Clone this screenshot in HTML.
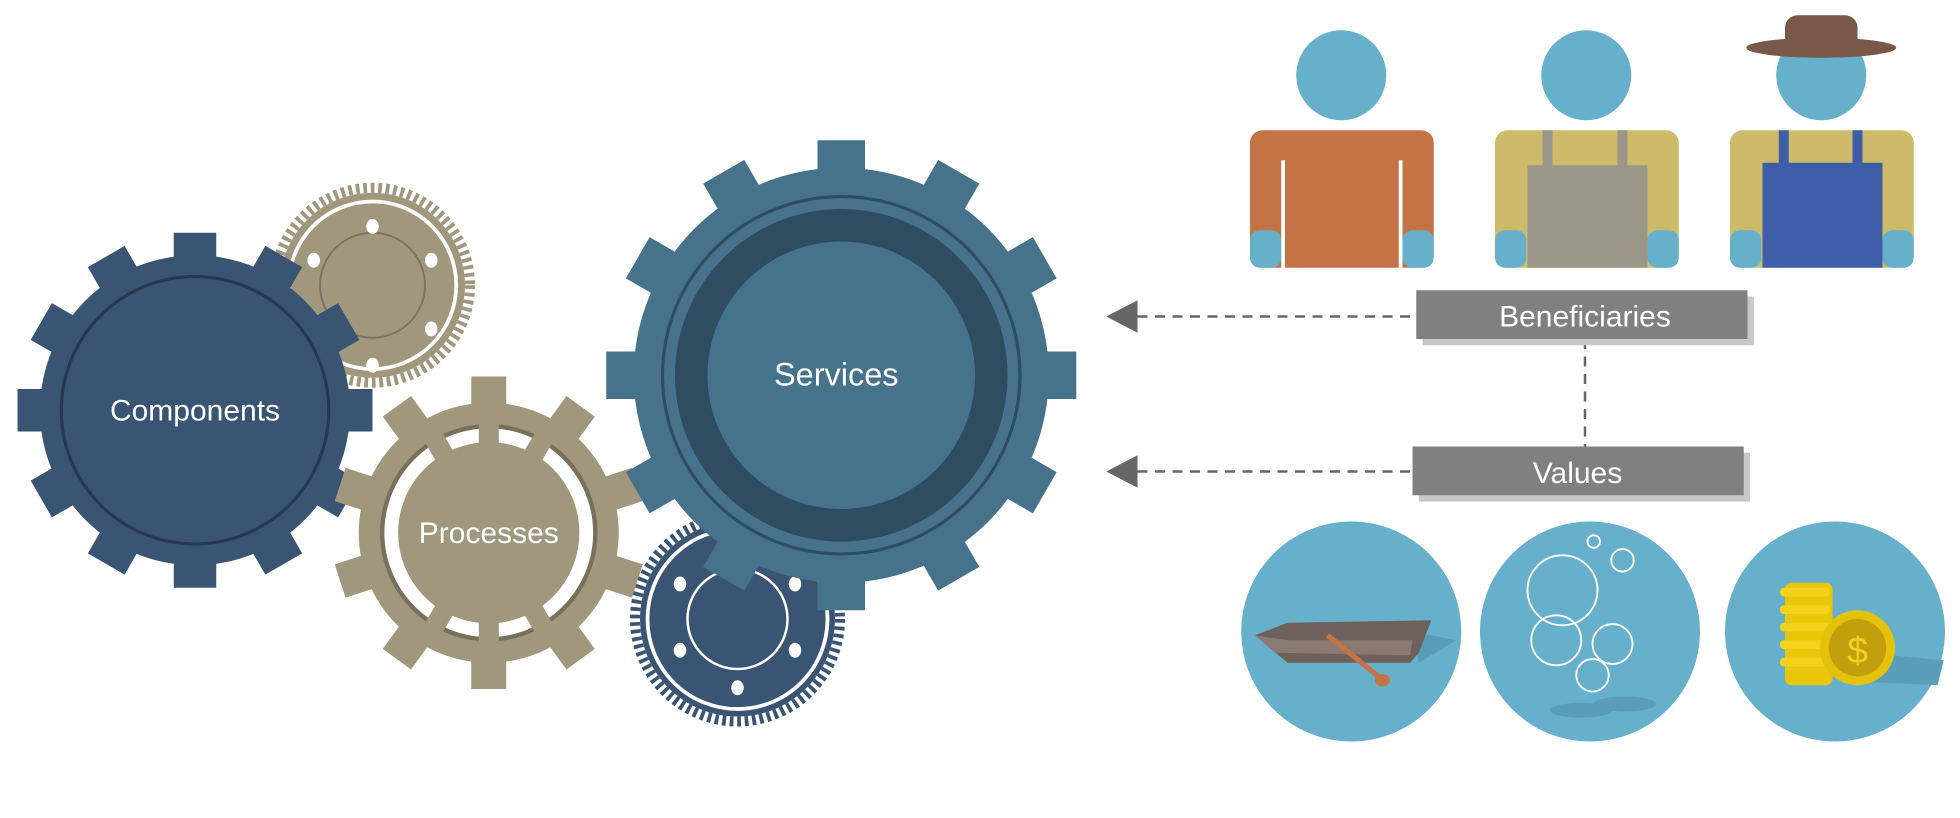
<!DOCTYPE html>
<html><head><meta charset="utf-8"><style>
html,body{margin:0;padding:0;background:#fff;width:1960px;height:818px;overflow:hidden}
svg{display:block}
text{font-family:"Liberation Sans","DejaVu Sans",sans-serif;fill:#fff}
</style></head><body>
<svg width="1960" height="818" viewBox="0 0 1568 654" xmlns="http://www.w3.org/2000/svg">

<!-- small tan fine gear top -->
<g transform="translate(298,228)">
<circle r="78" fill="none" stroke="#a0977c" stroke-width="8" stroke-dasharray="3 3"/>
<circle r="74" fill="#a0977c"/>
<circle r="67" fill="none" stroke="#fff" stroke-width="3"/>
<circle r="42" fill="none" stroke="#7a7260" stroke-width="1.5"/>
<ellipse cx="0" cy="-47" rx="5" ry="6" fill="#fff"/>
<ellipse cx="0" cy="64" rx="5" ry="6" fill="#fff"/>
<ellipse cx="-47" cy="-20" rx="5" ry="6" fill="#fff"/>
<ellipse cx="47" cy="-20" rx="5" ry="6" fill="#fff"/>
<ellipse cx="47" cy="35" rx="5" ry="6" fill="#fff"/>
</g>

<!-- bottom dark fine gear -->
<g transform="translate(590,495)">
<circle r="82" fill="none" stroke="#3a5573" stroke-width="8" stroke-dasharray="3 3"/>
<circle r="78" fill="#3a5573"/>
<circle r="72" fill="none" stroke="#fff" stroke-width="3"/>
<circle r="40" fill="none" stroke="#fff" stroke-width="2"/>
<ellipse cx="-46" cy="-28" rx="5" ry="6" fill="#fff"/>
<ellipse cx="46" cy="-28" rx="5" ry="6" fill="#fff"/>
<ellipse cx="-46" cy="25" rx="5" ry="6" fill="#fff"/>
<ellipse cx="46" cy="25" rx="5" ry="6" fill="#fff"/>
<ellipse cx="0" cy="55" rx="5" ry="6" fill="#fff"/>
</g>

<!-- Components gear -->
<g transform="translate(156,328)" fill="#3a5573">
<circle r="124"/>
<g><rect x="-17" y="-142" width="34" height="40" transform="rotate(0)"/><rect x="-17" y="-142" width="34" height="40" transform="rotate(30)"/><rect x="-17" y="-142" width="34" height="40" transform="rotate(60)"/><rect x="-17" y="-142" width="34" height="40" transform="rotate(90)"/><rect x="-17" y="-142" width="34" height="40" transform="rotate(120)"/><rect x="-17" y="-142" width="34" height="40" transform="rotate(150)"/><rect x="-17" y="-142" width="34" height="40" transform="rotate(180)"/><rect x="-17" y="-142" width="34" height="40" transform="rotate(210)"/><rect x="-17" y="-142" width="34" height="40" transform="rotate(240)"/><rect x="-17" y="-142" width="34" height="40" transform="rotate(270)"/><rect x="-17" y="-142" width="34" height="40" transform="rotate(300)"/><rect x="-17" y="-142" width="34" height="40" transform="rotate(330)"/></g>
<circle r="107" fill="none" stroke="#27384f" stroke-width="2.5"/>
<text x="0" y="8" font-size="24" text-anchor="middle">Components</text>
</g>

<!-- Processes gear -->
<g transform="translate(391,426)" fill="#a0977c">
<circle r="104"/>
<g><rect x="-14" y="-125" width="28" height="35" transform="rotate(0)"/><rect x="-14" y="-125" width="28" height="35" transform="rotate(36)"/><rect x="-14" y="-125" width="28" height="35" transform="rotate(72)"/><rect x="-14" y="-125" width="28" height="35" transform="rotate(108)"/><rect x="-14" y="-125" width="28" height="35" transform="rotate(144)"/><rect x="-14" y="-125" width="28" height="35" transform="rotate(180)"/><rect x="-14" y="-125" width="28" height="35" transform="rotate(216)"/><rect x="-14" y="-125" width="28" height="35" transform="rotate(252)"/><rect x="-14" y="-125" width="28" height="35" transform="rotate(288)"/><rect x="-14" y="-125" width="28" height="35" transform="rotate(324)"/></g>
<circle r="85" fill="none" stroke="#78705a" stroke-width="4"/>
<circle r="78" fill="none" stroke="#fff" stroke-width="11"/>
<rect x="-8" y="-92" width="16" height="184"/>
<rect x="-92" y="-8" width="184" height="16" transform="rotate(60)"/>
<rect x="-92" y="-8" width="184" height="16" transform="rotate(-60)"/>
<circle r="72"/>
<text x="0" y="8" font-size="24" text-anchor="middle">Processes</text>
</g>

<!-- Services gear -->
<g transform="translate(673,300)" fill="#46728c">
<circle r="166"/>
<g><rect x="-19" y="-188" width="38" height="40" transform="rotate(0)"/><rect x="-19" y="-188" width="38" height="40" transform="rotate(30)"/><rect x="-19" y="-188" width="38" height="40" transform="rotate(60)"/><rect x="-19" y="-188" width="38" height="40" transform="rotate(90)"/><rect x="-19" y="-188" width="38" height="40" transform="rotate(120)"/><rect x="-19" y="-188" width="38" height="40" transform="rotate(150)"/><rect x="-19" y="-188" width="38" height="40" transform="rotate(180)"/><rect x="-19" y="-188" width="38" height="40" transform="rotate(210)"/><rect x="-19" y="-188" width="38" height="40" transform="rotate(240)"/><rect x="-19" y="-188" width="38" height="40" transform="rotate(270)"/><rect x="-19" y="-188" width="38" height="40" transform="rotate(300)"/><rect x="-19" y="-188" width="38" height="40" transform="rotate(330)"/></g>
<circle r="143" fill="none" stroke="#2e4d60" stroke-width="2.5"/>
<circle r="133" fill="#2e4d60"/>
<circle r="107" fill="#46728c"/>
<text x="-4" y="8" font-size="26" text-anchor="middle">Services</text>
</g>

<!-- people -->
<g>
<circle cx="1073" cy="60" r="36" fill="#66b0cc"/>
<rect x="1000" y="104" width="147" height="110" rx="10" fill="#c47444"/>
<rect x="1000" y="184" width="25" height="30" rx="8" fill="#66b0cc"/>
<rect x="1122" y="184" width="25" height="30" rx="8" fill="#66b0cc"/>
<rect x="1025" y="128" width="3" height="86" fill="#fff"/>
<rect x="1119" y="128" width="3" height="86" fill="#fff"/>

<circle cx="1269" cy="60" r="36" fill="#66b0cc"/>
<rect x="1196" y="104" width="147" height="110" rx="10" fill="#cdbb6a"/>
<rect x="1196" y="184" width="25" height="30" rx="8" fill="#66b0cc"/>
<rect x="1318" y="184" width="25" height="30" rx="8" fill="#66b0cc"/>
<rect x="1222" y="132" width="96" height="82" fill="#9a978a"/>
<rect x="1234" y="104" width="8" height="30" fill="#9a978a"/>
<rect x="1294" y="104" width="8" height="30" fill="#9a978a"/>

<circle cx="1457" cy="60" r="36" fill="#66b0cc"/>
<rect x="1384" y="104" width="147" height="110" rx="10" fill="#cdbb6a"/>
<rect x="1384" y="184" width="25" height="30" rx="8" fill="#66b0cc"/>
<rect x="1506" y="184" width="25" height="30" rx="8" fill="#66b0cc"/>
<rect x="1410" y="130" width="96" height="84" fill="#3f5ea8"/>
<rect x="1423" y="104" width="8" height="30" fill="#3f5ea8"/>
<rect x="1482" y="104" width="8" height="30" fill="#3f5ea8"/>
<ellipse cx="1457" cy="38" rx="60" ry="8" fill="#7a5848"/>
<rect x="1428" y="12" width="58" height="30" rx="10" fill="#7a5848"/>
</g>

<!-- connectors -->
<g stroke="#666" stroke-width="2" stroke-dasharray="8 6" fill="none">
<line x1="910" y1="253" x2="1133" y2="253"/>
<line x1="910" y1="377" x2="1130" y2="377"/>
<line x1="1268" y1="271" x2="1268" y2="357"/>
</g>
<polygon points="885,253 910,240 910,266" fill="#666"/>
<polygon points="885,377 910,364 910,390" fill="#666"/>

<rect x="1138" y="237" width="265" height="39" fill="#c8c8c8"/>
<rect x="1133" y="232" width="265" height="39" fill="#808080"/>
<text x="1268" y="261" font-size="24" text-anchor="middle">Beneficiaries</text>
<rect x="1135" y="362" width="265" height="39" fill="#c8c8c8"/>
<rect x="1130" y="357" width="265" height="39" fill="#808080"/>
<text x="1262" y="386" font-size="24" text-anchor="middle">Values</text>

<!-- value circles -->
<g>
<circle cx="1081" cy="505" r="88" fill="#66b0cc"/>
<polygon points="1130,505 1165,512 1135,530" fill="#5a9db8"/>
<polygon points="1004,508 1030,498 1145,496 1135,522 1128,530 1030,530" fill="#6e605a"/>
<polygon points="1004,508 1020,522 1128,524 1130,512 1030,512" fill="#8a7a72"/>
<line x1="1062" y1="508" x2="1104" y2="542" stroke="#c47444" stroke-width="4"/>
<ellipse cx="1106" cy="544" rx="6" ry="5" fill="#c47444"/>

<circle cx="1272" cy="505" r="88" fill="#66b0cc"/>
<ellipse cx="1265" cy="568" rx="25" ry="6" fill="#5a9db8"/>
<ellipse cx="1300" cy="563" rx="25" ry="6" fill="#5a9db8"/>
<g fill="none" stroke="#fff" stroke-width="1.5">
<circle cx="1250" cy="472" r="28"/>
<circle cx="1245" cy="512" r="20"/>
<circle cx="1290" cy="515" r="16"/>
<circle cx="1274" cy="540" r="13"/>
<circle cx="1298" cy="448" r="9"/>
<circle cx="1275" cy="433" r="5"/>
</g>

<circle cx="1468" cy="505" r="88" fill="#66b0cc"/>
<polygon points="1490,522 1555,528 1550,548 1490,545" fill="#5a9db8"/>
<rect x="1428" y="466" width="38" height="82" rx="5" fill="#e9c60a"/>
<g fill="#f2d21a"><rect x="1424" y="470" width="40" height="7" rx="3"/><rect x="1424" y="484" width="40" height="7" rx="3"/><rect x="1424" y="498" width="40" height="7" rx="3"/><rect x="1424" y="512" width="40" height="7" rx="3"/><rect x="1424" y="526" width="40" height="7" rx="3"/></g>
<circle cx="1486" cy="518" r="30" fill="#e5c20a"/>
<circle cx="1486" cy="518" r="23" fill="#c29f0c"/>
<text x="1486" y="530" font-size="30" text-anchor="middle" style="fill:#f0d020">$</text>
</g>
</svg>
</body></html>
